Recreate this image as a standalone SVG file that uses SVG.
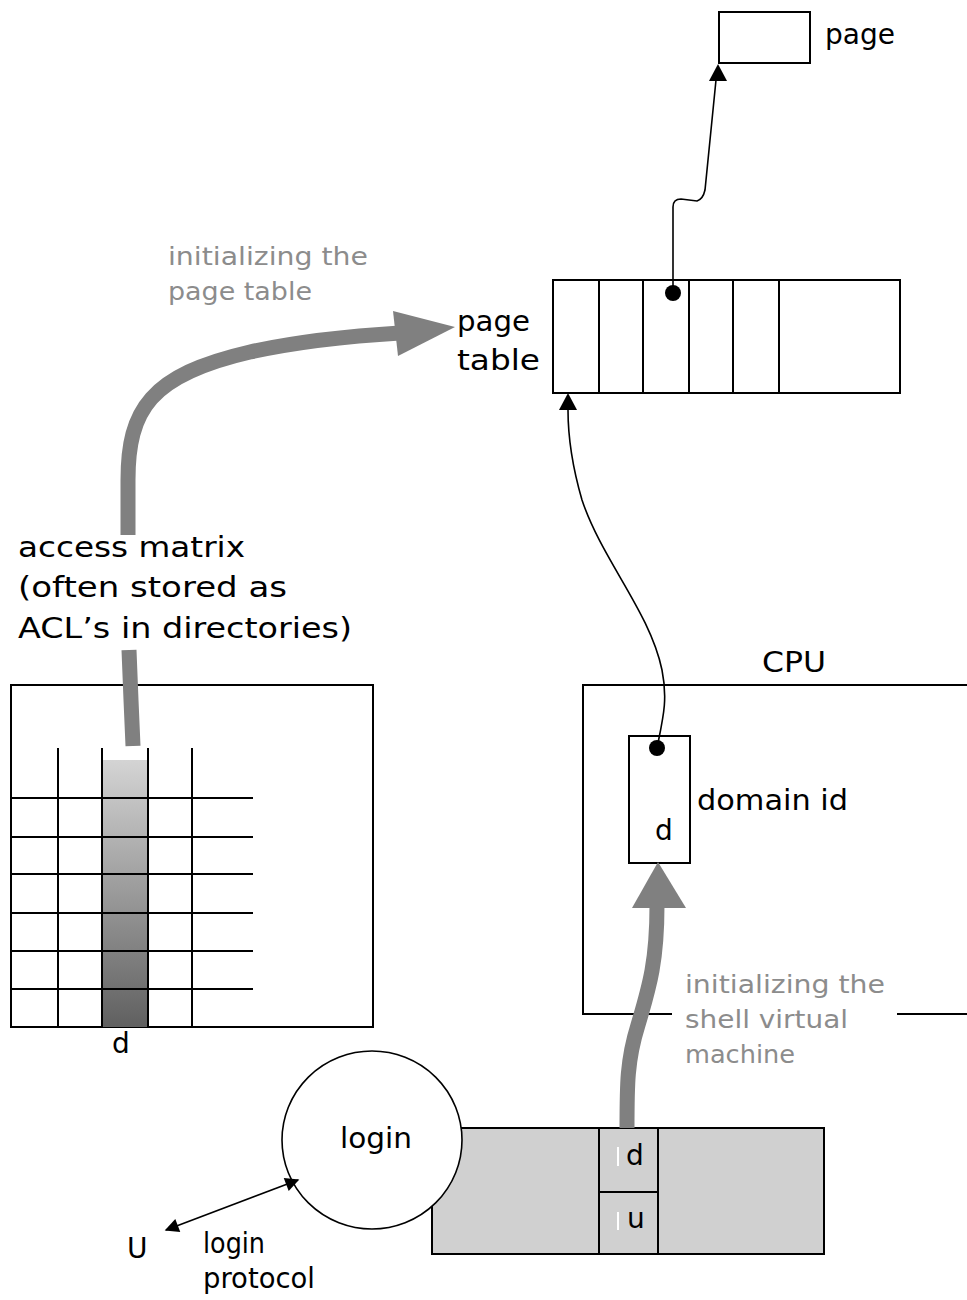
<svg xmlns="http://www.w3.org/2000/svg" width="967" height="1300" viewBox="0 0 967 1300">
<style>
.box{fill:#fff;stroke:#000;stroke-width:2}
.ln{fill:none;stroke:#000;stroke-width:2}
.thin{fill:none;stroke:#000;stroke-width:1.6}
.t{font-family:"DejaVu Sans",sans-serif;font-size:28px;fill:#000}
.g{font-family:"DejaVu Sans",sans-serif;font-size:24px;fill:#8c8c8c}
.fat{fill:none;stroke:#808080;stroke-width:15}
.head{fill:#808080}
</style>
<defs>
<linearGradient id="col" x1="0" y1="0" x2="0" y2="1">
<stop offset="0" stop-color="#d4d4d4"/>
<stop offset="1" stop-color="#606060"/>
</linearGradient>
<marker id="ah" viewBox="0 0 10 10" refX="9" refY="5" markerWidth="16" markerHeight="14" markerUnits="userSpaceOnUse" orient="auto-start-reverse">
<path d="M0,0 L10,5 L0,10 z" fill="#000"/>
</marker>
</defs>

<g id="page">
<rect class="box" x="719" y="12" width="91" height="51"/>
<text class="t" x="825" y="44" textLength="70" lengthAdjust="spacingAndGlyphs">page</text>
</g>

<g id="page-table">
<rect class="box" x="553" y="280" width="347" height="113"/>
<path class="ln" d="M599,280V393M643,280V393M689,280V393M733,280V393M779,280V393"/>
<text class="t" x="457" y="331" textLength="73" lengthAdjust="spacingAndGlyphs">page</text>
<text class="t" x="457" y="370" textLength="83" lengthAdjust="spacingAndGlyphs">table</text>
</g>

<g id="access-matrix">
<rect class="box" x="11" y="685" width="362" height="342"/>
<rect x="102" y="760" width="46" height="267" fill="url(#col)"/>
<path class="ln" d="M58,748V1027M102,748V1027M148,748V1027M192,748V1027"/>
<path class="ln" d="M11,798H253M11,837H253M11,874H253M11,913H253M11,951H253M11,989H253"/>
<text class="t" x="112" y="1053">d</text>
<text class="t" x="18" y="557" textLength="227" lengthAdjust="spacingAndGlyphs">access matrix</text>
<text class="t" x="18" y="597" textLength="269" lengthAdjust="spacingAndGlyphs">(often stored as</text>
<text class="t" x="18" y="638" textLength="334" lengthAdjust="spacingAndGlyphs">ACL’s in directories)</text>
</g>

<g id="cpu">
<path class="ln" d="M967,685H583V1014H672M897,1014H967"/>
<text class="t" x="762" y="672" textLength="64" lengthAdjust="spacingAndGlyphs">CPU</text>
</g>

<g id="domain-id">
<rect class="box" x="629" y="736" width="61" height="127"/>
<text class="t" x="655" y="840">d</text>
<text class="t" x="697" y="810" textLength="151" lengthAdjust="spacingAndGlyphs">domain id</text>
</g>

<g id="process">
<rect x="432" y="1128" width="392" height="126" fill="#d0d0d0" stroke="#000" stroke-width="2"/>
<path class="ln" d="M599,1128V1254M658,1128V1254M599,1192H658"/>
<path d="M618,1147V1166M618,1212V1230" stroke="#fff" stroke-width="2"/>
<text class="t" x="626" y="1165">d</text>
<text class="t" x="627" y="1228">u</text>
</g>

<g id="login">
<ellipse cx="372" cy="1140" rx="90" ry="89" fill="#fff" stroke="#000" stroke-width="1.6"/>
<text class="t" x="340" y="1148" textLength="72" lengthAdjust="spacingAndGlyphs">login</text>
</g>

<g id="user">
<text class="t" x="127" y="1258">U</text>
<text class="t" x="203" y="1253" textLength="62" lengthAdjust="spacingAndGlyphs">login</text>
<text class="t" x="203" y="1288" textLength="112" lengthAdjust="spacingAndGlyphs">protocol</text>
</g>

<g id="connectors">
<path class="thin" d="M673,293V207Q673,199 681,199L697,201Q703,199 705,190L716,80"/>
<polygon points="718,64 709,81 727,81" fill="#000"/>
<circle cx="673" cy="293" r="8" fill="#000"/>

<path class="thin" d="M657,748C663,718 668,700 662,670C650,612 602,560 582,500C571,462 568,436 568,410"/>
<polygon points="568,393 559,410 577,410" fill="#000"/>
<circle cx="657" cy="748" r="8" fill="#000"/>

<path class="thin" d="M166,1230L298,1180" marker-start="url(#ah)" marker-end="url(#ah)"/>

<path class="fat" d="M128,535V480C128,410 150,375 250,352C300,341 350,336 400,333"/>
<polygon class="head" points="393,311 455,327 398,356"/>

<path class="fat" d="M129,650L131,700L133,746"/>

<path class="fat" d="M627,1128C627,1085 627,1060 638,1025C650,985 657,960 657,905"/>
<polygon class="head" points="632,908 658,862 686,908"/>

<text class="g" x="168" y="265" textLength="200" lengthAdjust="spacingAndGlyphs">initializing the</text>
<text class="g" x="168" y="300" textLength="144" lengthAdjust="spacingAndGlyphs">page table</text>
<text class="g" x="685" y="993" textLength="200" lengthAdjust="spacingAndGlyphs">initializing the</text>
<text class="g" x="685" y="1028" textLength="163" lengthAdjust="spacingAndGlyphs">shell virtual</text>
<text class="g" x="685" y="1063" textLength="110" lengthAdjust="spacingAndGlyphs">machine</text>
</g>
</svg>
